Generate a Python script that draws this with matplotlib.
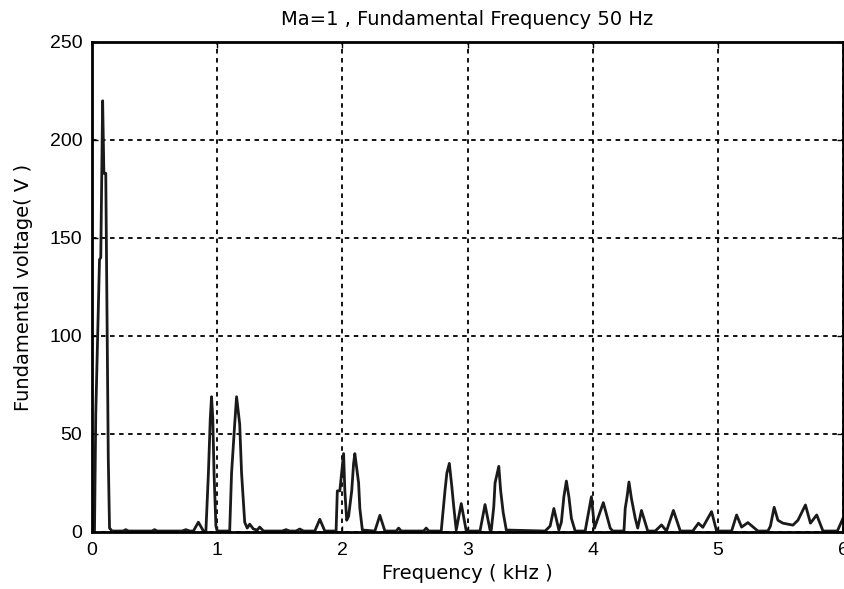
import matplotlib
matplotlib.use('Agg')
import matplotlib.pyplot as plt
import numpy as np

plt.rcParams['font.family'] = ['Liberation Sans', 'DejaVu Sans']

# spectrum trace (kHz, volts)
freq = [0.0, 0.02, 0.03, 0.06, 0.07, 0.085, 0.095, 0.11, 0.12, 0.13, 0.14, 0.16,
        0.25, 0.27, 0.29, 0.48, 0.50, 0.52, 0.72, 0.75, 0.78,
        0.81, 0.85, 0.89, 0.91, 0.93, 0.945, 0.955, 0.965, 0.975, 0.99, 1.0,
        1.10, 1.115, 1.14, 1.155, 1.18, 1.195, 1.22, 1.24, 1.26, 1.29, 1.32, 1.34, 1.37,
        1.52, 1.55, 1.58, 1.63, 1.66, 1.69, 1.78, 1.82, 1.86,
        1.95, 1.96, 1.98, 2.01, 2.02, 2.035, 2.05, 2.075, 2.09, 2.10, 2.13, 2.14, 2.16,
        2.26, 2.30, 2.34, 2.43, 2.45, 2.47, 2.65, 2.67, 2.69,
        2.79, 2.82, 2.835, 2.855, 2.875, 2.89, 2.91, 2.95, 2.99,
        3.10, 3.14, 3.18, 3.19, 3.21, 3.22, 3.25, 3.265, 3.285, 3.31,
        3.62, 3.66, 3.69, 3.73, 3.75, 3.77, 3.79, 3.81, 3.83, 3.86,
        3.94, 3.95, 3.99, 4.015, 4.085, 4.11, 4.14, 4.16,
        4.25, 4.26, 4.275, 4.29, 4.31, 4.34, 4.36, 4.39, 4.44,
        4.50, 4.55, 4.59, 4.645, 4.70, 4.80, 4.845, 4.88, 4.95, 4.99,
        5.09, 5.11, 5.15, 5.19, 5.24, 5.32, 5.40, 5.42, 5.45, 5.48, 5.52, 5.60, 5.64,
        5.70, 5.74, 5.79, 5.84, 5.955, 6.0]
volts = [0.5, 0.5, 60, 139, 140, 220, 183, 183, 110, 38, 2, 0.5,
         0.5, 1.2, 0.5, 0.5, 1.2, 0.5, 0.5, 1.2, 0.5,
         0.5, 5, 0.5, 0.5, 30, 58, 69, 58, 30, 3, 0.5,
         0.5, 30, 55, 69, 55, 30, 5, 2, 4, 1.5, 1, 2.5, 0.5,
         0.5, 1.2, 0.5, 0.5, 1.5, 0.5, 0.5, 6.5, 0.5,
         0.5, 21, 21, 40, 21, 6, 8, 21, 35, 40, 25, 12, 1,
         0.5, 8.5, 0.5, 0.5, 2, 0.5, 0.5, 2, 0.5,
         0.5, 21, 30, 35, 23, 13, 1, 14.5, 0.5,
         0.5, 14, 1, 1, 13, 25, 33.5, 21, 10, 1,
         0.5, 3, 12, 1, 5, 18, 26, 18, 7, 0.5,
         0.5, 4, 18, 2, 15, 9, 2, 0.5,
         0.5, 12, 18, 25.5, 17, 7, 2, 11, 0.5,
         0.5, 3.6, 0.5, 11, 0.5, 0.5, 4.5, 2.4, 10.4, 0.5,
         0.5, 0.5, 8.7, 2.5, 4.8, 0.5, 0.5, 3, 12.6, 6, 4.5, 3.5, 6,
         13.8, 4.5, 8.7, 0.5, 0.5, 7]

xticks = [0, 1, 2, 3, 4, 5, 6]
yticks = [0, 50, 100, 150, 200, 250]

fig = plt.figure(figsize=(8.45, 5.89), dpi=100)
ax = fig.add_axes([92/845, 57/589, 751/845, 490/589])

ax.plot(freq, volts, color='#1a1a1a', linewidth=2.0)

ax.set_xlim(0, 6)
ax.set_ylim(0, 250)
ax.set_xticks(xticks)
ax.set_yticks(yticks)
ax.tick_params(direction='in', length=4, width=1, top=True, right=True,
               labelsize=14, pad=7)
ax.grid(True, color='black', linestyle=(0, (2.5, 2.5)), linewidth=1.3)
for s in ax.spines.values():
    s.set_linewidth(2)
    s.set_color('black')

lab = dict(family=['DejaVu Sans'], fontsize=14)
ax.set_title('Ma=1 , Fundamental Frequency 50 Hz', pad=12, **lab)
ax.set_xlabel('Frequency ( kHz )', labelpad=4, **lab)
ax.set_ylabel('Fundamental voltage( V )', labelpad=12, **lab)

plt.savefig('out.png', dpi=100)
